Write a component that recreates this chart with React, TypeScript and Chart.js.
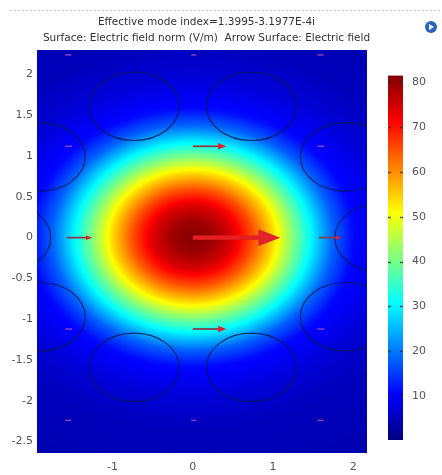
import React, { useEffect, useRef } from "react";
import { Chart, registerables } from "chart.js";

Chart.register(...registerables);

// ---- text ----
const titleLines = [
  "Effective mode index=1.3995-3.1977E-4i",
  "Surface: Electric field norm (V/m)  Arrow Surface: Electric field",
];

// ---- axis ranges (m) ----
const xRange = [-1.94, 2.17];
const yRange = [-2.64, 2.3];

// ---- electric field norm (V/m) versus normalised radius of the guided mode ----
const profileRadius = [0, 0.25, 0.5, 0.75, 1.0, 1.25, 1.5, 1.75, 2.0, 2.5, 3.0, 4.0];
const profileField = [81, 79, 74, 65, 54, 41, 29, 18, 11, 7, 5, 4];
const modeAspect = 0.79;

// ---- colour legend range (V/m) ----
const legendRange = [0.2, 81.5];

// ---- air holes of the cladding ----
const holeX = [-0.73, 0.73, -1.9, 1.9, -2.33, 2.33, -1.9, 1.9, -0.73, 0.73];
const holeY = [1.61, 1.61, 0.99, 0.99, 0, 0, -0.97, -0.97, -1.59, -1.59];
const holeRx = [0.56, 0.56, 0.56, 0.56, 0.56, 0.56, 0.56, 0.56, 0.56, 0.56];
const holeRy = [0.42, 0.42, 0.42, 0.42, 0.42, 0.42, 0.42, 0.42, 0.42, 0.42];

// ---- arrow surface: tails and x-component lengths ----
const arrowX = [-1.57, 0, 1.57, -1.57, 0, 1.57, -1.57, 0, 1.57, -1.57, 0, 1.57, -1.57, 0, 1.57];
const arrowY = [2.24, 2.24, 2.24, 1.12, 1.12, 1.12, 0, 0, 0, -1.12, -1.12, -1.12, -2.24, -2.24, -2.24];
const arrowLen = [0.04, 0.02, 0.04, 0.05, 0.42, 0.05, 0.32, 1.09, 0.28, 0.05, 0.42, 0.05, 0.04, 0.02, 0.04];

const FONT = "'DejaVu Sans', Verdana, sans-serif";

function jet(f: number): [number, number, number] {
  const c = (v: number) => Math.max(0, Math.min(1, v));
  return [c(1.5 - Math.abs(4 * f - 3)), c(1.5 - Math.abs(4 * f - 2)), c(1.5 - Math.abs(4 * f - 1))];
}

function fieldAt(rho: number): number {
  const n = profileRadius.length;
  if (rho >= profileRadius[n - 1]) return profileField[n - 1];
  for (let i = 0; i < n - 1; i++) {
    const r0 = profileRadius[i];
    const r1 = profileRadius[i + 1];
    if (rho <= r1) {
      const t = (rho - r0) / (r1 - r0);
      return profileField[i] + t * (profileField[i + 1] - profileField[i]);
    }
  }
  return profileField[n - 1];
}

function valueToColor(v: number): [number, number, number] {
  const f = (v - legendRange[0]) / (legendRange[1] - legendRange[0]);
  return jet(Math.max(0, Math.min(1, f)));
}

const plainNumber = (v: any) => `${+Number(v).toFixed(2)}`;

const surfacePlugin = {
  id: "surface",
  beforeDatasetsDraw(chart: any) {
    const { ctx, chartArea, scales } = chart;
    const xs = scales.x;
    const ys = scales.y;
    const w = Math.round(chartArea.right - chartArea.left);
    const h = Math.round(chartArea.bottom - chartArea.top);
    const off = document.createElement("canvas");
    off.width = w;
    off.height = h;
    const octx = off.getContext("2d")!;
    const img = octx.createImageData(w, h);
    for (let j = 0; j < h; j++) {
      const y = ys.getValueForPixel(chartArea.top + j + 0.5);
      for (let i = 0; i < w; i++) {
        const x = xs.getValueForPixel(chartArea.left + i + 0.5);
        const rho = Math.sqrt(x * x + (y / modeAspect) * (y / modeAspect));
        const [r, g, b] = valueToColor(fieldAt(rho));
        const k = (j * w + i) * 4;
        img.data[k] = Math.round(r * 255);
        img.data[k + 1] = Math.round(g * 255);
        img.data[k + 2] = Math.round(b * 255);
        img.data[k + 3] = 255;
      }
    }
    octx.putImageData(img, 0, 0);
    ctx.save();
    ctx.drawImage(off, chartArea.left, chartArea.top);

    // hole boundaries
    ctx.beginPath();
    ctx.rect(chartArea.left, chartArea.top, w, h);
    ctx.clip();
    ctx.strokeStyle = "rgba(12,22,70,0.85)";
    ctx.lineWidth = 1.1;
    for (let i = 0; i < holeX.length; i++) {
      const cx = xs.getPixelForValue(holeX[i]);
      const cy = ys.getPixelForValue(holeY[i]);
      const rx = Math.abs(xs.getPixelForValue(holeX[i] + holeRx[i]) - cx);
      const ry = Math.abs(ys.getPixelForValue(holeY[i] + holeRy[i]) - cy);
      ctx.beginPath();
      ctx.ellipse(cx, cy, rx, ry, 0, 0, Math.PI * 2);
      ctx.stroke();
    }

    // arrows
    for (let i = 0; i < arrowX.length; i++) {
      const x0 = xs.getPixelForValue(arrowX[i]);
      const x1 = xs.getPixelForValue(arrowX[i] + arrowLen[i]);
      const y0 = ys.getPixelForValue(arrowY[i]);
      const L = x1 - x0;
      if (L < 6) {
        ctx.strokeStyle = "rgba(236,110,160,0.55)";
        ctx.lineWidth = 1.6;
        ctx.beginPath();
        ctx.moveTo(x0 - 1.5, y0);
        ctx.lineTo(x0 + Math.max(L, 2) + 1.5, y0);
        ctx.stroke();
        continue;
      }
      const headL = L * 0.25;
      const headW = L * 0.095;
      const shaftW = Math.max(1.8, L * 0.05);
      ctx.fillStyle = L > 60 ? "#e41e22" : "#8a3d4a";
      ctx.fillRect(x0, y0 - shaftW / 2, L - headL + 1, shaftW);
      ctx.fillStyle = "#e0222a";
      ctx.beginPath();
      ctx.moveTo(x1, y0);
      ctx.lineTo(x1 - headL, y0 - headW);
      ctx.lineTo(x1 - headL, y0 + headW);
      ctx.closePath();
      ctx.fill();
    }
    ctx.restore();
  },
  afterDraw(chart: any) {
    const { ctx } = chart;
    ctx.save();
    // header rule
    ctx.strokeStyle = "#c9c9c9";
    ctx.lineWidth = 1;
    ctx.setLineDash([2, 2]);
    ctx.beginPath();
    ctx.moveTo(10, 10.5);
    ctx.lineTo(441, 10.5);
    ctx.stroke();
    ctx.setLineDash([]);
    // title
    ctx.fillStyle = "#333";
    ctx.font = `10.5px ${FONT}`;
    ctx.textAlign = "center";
    ctx.textBaseline = "middle";
    ctx.fillText(titleLines[0], 206.5, 22);
    ctx.fillText(titleLines[1], 206.5, 38);
    // toolbar icon
    ctx.fillStyle = "#2d62b8";
    ctx.beginPath();
    ctx.arc(431, 27, 6, 0, Math.PI * 2);
    ctx.fill();
    ctx.fillStyle = "#ffffff";
    ctx.beginPath();
    ctx.moveTo(429, 24);
    ctx.lineTo(434, 27);
    ctx.lineTo(429, 30);
    ctx.closePath();
    ctx.fill();
    ctx.restore();
  },
};

const legendPlugin = {
  id: "legendBar",
  beforeDatasetsDraw(chart: any) {
    const { ctx, chartArea, scales } = chart;
    const ys = scales.y;
    const grad = ctx.createLinearGradient(0, chartArea.bottom, 0, chartArea.top);
    const steps = 32;
    for (let s = 0; s <= steps; s++) {
      const f = s / steps;
      const [r, g, b] = jet(f);
      grad.addColorStop(f, `rgb(${Math.round(r * 255)},${Math.round(g * 255)},${Math.round(b * 255)})`);
    }
    ctx.save();
    ctx.fillStyle = grad;
    ctx.fillRect(chartArea.left, chartArea.top, chartArea.right - chartArea.left, chartArea.bottom - chartArea.top);
    ctx.strokeStyle = "rgba(40,40,40,0.75)";
    ctx.lineWidth = 1.5;
    for (const t of ys.ticks) {
      const py = Math.round(ys.getPixelForValue(t.value)) + 0.5;
      ctx.beginPath();
      ctx.moveTo(chartArea.left, py);
      ctx.lineTo(chartArea.left + 3, py);
      ctx.moveTo(chartArea.right - 3, py);
      ctx.lineTo(chartArea.right, py);
      ctx.stroke();
    }
    ctx.restore();
  },
};

export default function App() {
  const mainRef = useRef<HTMLCanvasElement>(null);
  const barRef = useRef<HTMLCanvasElement>(null);

  useEffect(() => {
    const tickFont = { family: FONT, size: 11 };
    const main = new Chart(mainRef.current!, {
      type: "scatter",
      data: {
        datasets: [
          {
            data: arrowX.map((x, i) => ({ x, y: arrowY[i] })),
            pointRadius: 0,
          },
        ],
      },
      options: {
        responsive: false,
        animation: false,
        events: [],
        layout: { padding: { left: 7, top: 50, right: 75, bottom: 0 } },
        plugins: { legend: { display: false }, tooltip: { enabled: false }, title: { display: false } },
        scales: {
          x: {
            type: "linear",
            min: xRange[0],
            max: xRange[1],
            grid: { display: false, drawTicks: false },
            border: { display: false },
            ticks: { stepSize: 1, includeBounds: false, color: "#555", font: tickFont, padding: 8, callback: plainNumber },
            afterFit: (s: any) => {
              s.height = 22;
            },
          },
          y: {
            type: "linear",
            min: yRange[0],
            max: yRange[1],
            grid: { display: false, drawTicks: false },
            border: { display: false },
            ticks: { stepSize: 0.5, includeBounds: false, color: "#555", font: tickFont, padding: 4, callback: plainNumber },
            afterFit: (s: any) => {
              s.width = 30;
            },
          },
        },
      } as any,
      plugins: [surfacePlugin],
    });

    const bar = new Chart(barRef.current!, {
      type: "scatter",
      data: { datasets: [] },
      options: {
        responsive: false,
        animation: false,
        events: [],
        layout: { padding: { left: 8, top: 13, right: 0, bottom: 20 } },
        plugins: { legend: { display: false }, tooltip: { enabled: false } },
        scales: {
          x: { display: false, min: 0, max: 1 },
          y: {
            type: "linear",
            position: "right",
            min: legendRange[0],
            max: legendRange[1],
            grid: { display: false, drawTicks: false },
            border: { display: false },
            ticks: { stepSize: 10, includeBounds: false, color: "#555", font: tickFont, padding: 9, callback: plainNumber },
            afterFit: (s: any) => {
              s.width = 39;
            },
          },
        },
      } as any,
      plugins: [legendPlugin],
    });

    return () => {
      main.destroy();
      bar.destroy();
    };
  }, []);

  return (
    <div style={{ position: "absolute", left: 0, top: 0, width: 442, height: 475, background: "#fff" }}>
      <canvas ref={mainRef} width={442} height={475} style={{ position: "absolute", left: 0, top: 0 }} />
      <canvas ref={barRef} width={62} height={400} style={{ position: "absolute", left: 380, top: 60 }} />
    </div>
  );
}
